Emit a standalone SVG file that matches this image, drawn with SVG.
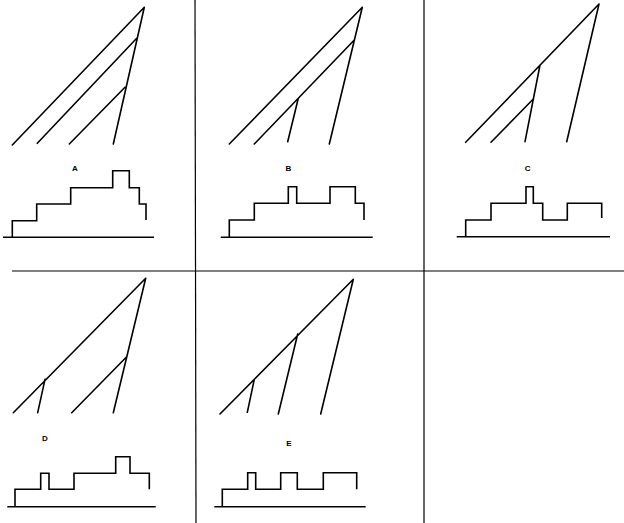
<svg xmlns="http://www.w3.org/2000/svg" width="624" height="523" viewBox="0 0 624 523">
<style>
.ln{fill:none;stroke:#000;stroke-width:1.6;stroke-linecap:round;stroke-linejoin:miter}
.st{fill:none;stroke:#000;stroke-width:1.6;stroke-linejoin:miter}
.bl{fill:none;stroke:#000;stroke-width:1.4}
.dv{fill:none;stroke:#000;stroke-width:1.2}
.lb{font-family:"Liberation Sans",Arial,sans-serif;font-size:8px;font-weight:bold;fill:#000;text-anchor:middle}
</style>
<rect width="624" height="523" fill="#fff"/>
<g id="dividers">
<line class="dv" x1="195" y1="0" x2="196" y2="523"/>
<line class="dv" x1="424" y1="0" x2="424" y2="523"/>
<line class="dv" x1="12" y1="271" x2="624" y2="271"/>
</g>
<g id="panelA">
<path class="ln" d="M144.3,7.3 L12.3,145 M136.7,38.3 L37.3,143.3 M125,87.3 L69.3,144 M144.3,7.3 L113.3,144"/>
<text class="lb" x="75" y="171">A</text>
<line class="bl" x1="3" y1="237.3" x2="154" y2="237.3"/>
<path class="st" d="M12.3,237.3 V220.7 H36.7 V204 H70.7 V187.7 H112.7 V170.7 H129.3 V187.7 H139.3 V204 H146 V220"/>
</g>
<g id="panelB">
<path class="ln" d="M362.3,7.3 L229.3,144 M354.3,40 L254.3,144 M298.3,98.3 L287.7,141.7 M362.3,7.3 L329.3,144"/>
<text class="lb" x="288.3" y="171">B</text>
<line class="bl" x1="220.7" y1="237.3" x2="372.7" y2="237.3"/>
<path class="st" d="M229.3,237.3 V220 H254.3 V203.3 H288.3 V186.7 H296.7 V203.3 H330 V186.7 H355.3 V203.3 H364 V220"/>
</g>
<g id="panelC">
<path class="ln" d="M599,4 L465.7,142.3 M540,65 L525,141.7 M533.3,99 L491,142.3 M599,4 L566.7,141.7"/>
<text class="lb" x="527.7" y="171">C</text>
<line class="bl" x1="456.7" y1="236.7" x2="610" y2="236.7"/>
<path class="st" d="M465.7,236.7 V220 H491 V203.3 H526 V186.7 H533.3 V203.3 H542.7 V220 H567.3 V203.3 H601.7 V218"/>
</g>
<g id="panelD">
<path class="ln" d="M145.7,278.3 L13.3,412.7 M45,379.3 L37.7,412.7 M145.7,278.3 L113.3,412.7 M126.7,356.7 L71.7,412.7"/>
<text class="lb" x="45" y="440.5">D</text>
<line class="bl" x1="7.3" y1="506.7" x2="155.7" y2="506.7"/>
<path class="st" d="M15,506.7 V489.3 H40.7 V473.3 H49 V489.3 H74 V473.3 H115.7 V456.7 H130 V473.3 H149.3 V489.3"/>
</g>
<g id="panelE">
<path class="ln" d="M353.3,279.3 L220,414 M297.7,334 L278.3,414 M254.3,379.3 L247.3,412.3 M353.3,279.3 L320.7,414"/>
<text class="lb" x="289" y="445.5">E</text>
<line class="bl" x1="214.3" y1="506.7" x2="365.7" y2="506.7"/>
<path class="st" d="M222.3,506.7 V489.3 H247.7 V472.7 H255.7 V489.3 H280.7 V472.7 H297.3 V489.3 H323.3 V472.7 H356.7 V489.3"/>
</g>
</svg>
